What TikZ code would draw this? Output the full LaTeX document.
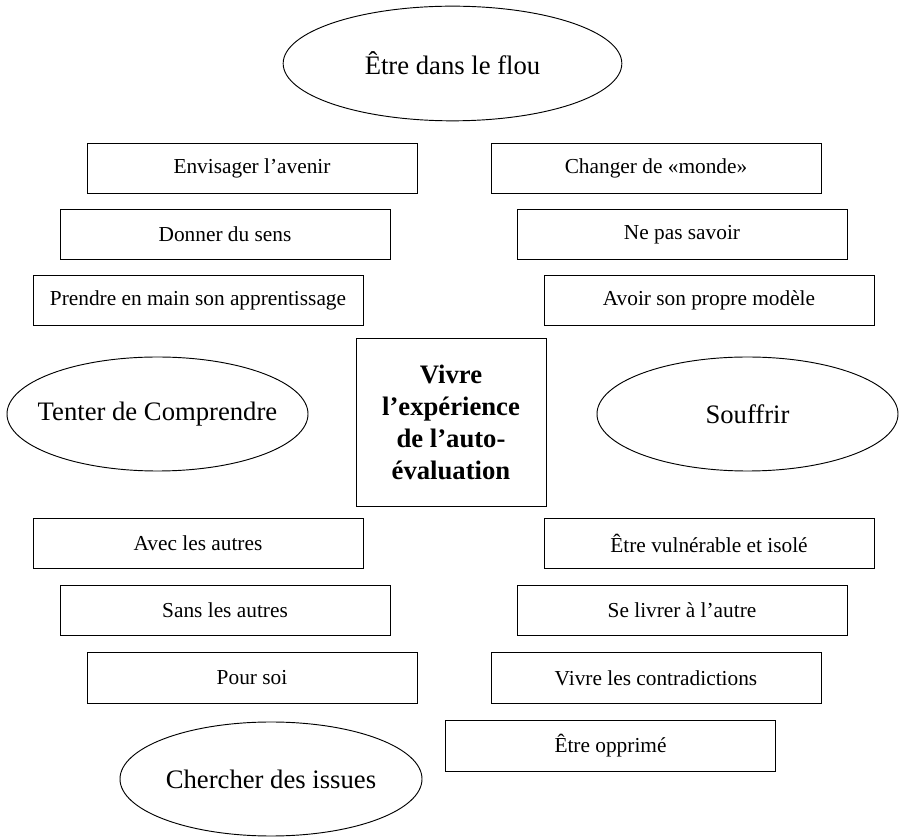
\documentclass[tikz,border=0pt]{standalone}
\usepackage{fontspec}
\setmainfont{Liberation Serif}
\usetikzlibrary{shapes.geometric}
\tikzset{
  box/.style={draw=black, line width=0.7pt, rectangle, minimum width=247.5pt, minimum height=38pt, inner sep=0pt, font=\fontsize{16}{19}\selectfont},
  theme/.style={draw=black, line width=0.7pt, ellipse, inner xsep=-40pt, inner ysep=0pt, font=\fontsize{20}{24}\selectfont},
  core/.style={draw=black, line width=0.7pt, rectangle, minimum width=142.5pt, minimum height=126pt, inner sep=0pt, align=center, font=\fontsize{20}{24}\bfseries\selectfont}
}
\begin{document}
\begin{tikzpicture}[x=0.75pt, y=-0.75pt]
\useasboundingbox (0,0) rectangle (901,837);
% ellipses
\node[theme, minimum width=254pt, minimum height=86pt] (flou) at (452.5,63.5) {Être dans le flou};
\node[theme, minimum width=225.75pt, minimum height=85.5pt] (comprendre) at (157.5,414) {Tenter de Comprendre};
\node[theme, minimum width=225.75pt, minimum height=85.5pt] (souffrir) at (747.5,414) {Souffrir};
\node[theme, minimum width=226.5pt, minimum height=85.5pt] (issues) at (271,779) {Chercher des issues};
% central box
\node[core] (centre) at (451,422) {Vivre\\l’expérience\\de l’auto-\\évaluation};
% upper left
\node[box] (avenir) at (252,168.5) {Envisager l’avenir};
\node[box] (sens) at (225,234.5) {Donner du sens};
\node[box] (prendre) at (198,300.5) {Prendre en main son apprentissage};
% upper right
\node[box] (monde) at (656,168.5) {Changer de «monde»};
\node[box] (savoir) at (682,234.5) {Ne pas savoir};
\node[box] (modele) at (709,300.5) {Avoir son propre modèle};
% lower left
\node[box] (avec) at (198,543.5) {Avec les autres};
\node[box] (sans) at (225,610.5) {Sans les autres};
\node[box] (soi) at (252,678) {Pour soi};
% lower right
\node[box] (vuln) at (709,543.5) {Être vulnérable et isolé};
\node[box] (livrer) at (682,610.5) {Se livrer à l’autre};
\node[box] (contra) at (656,678) {Vivre les contradictions};
\node[box] (opprime) at (610.5,746) {Être opprimé};
\end{tikzpicture}
\end{document}
